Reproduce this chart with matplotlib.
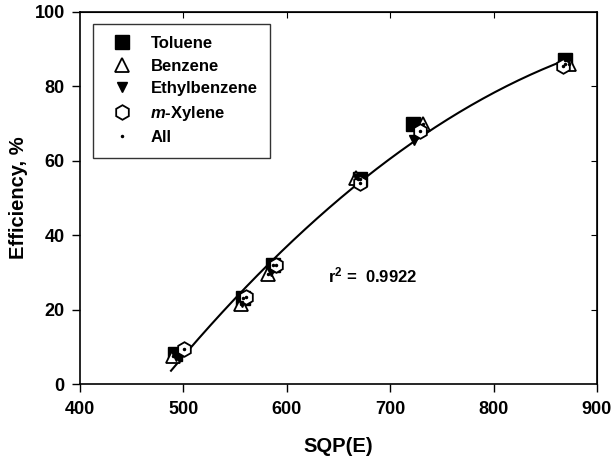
import numpy as np
import matplotlib
matplotlib.use('Agg')
import matplotlib.pyplot as plt

plt.rcParams['font.family'] = ['Liberation Sans', 'DejaVu Sans']
plt.rcParams['font.weight'] = 'bold'
plt.rcParams['mathtext.fontset'] = 'custom'
plt.rcParams['mathtext.rm'] = 'Liberation Sans:bold'
plt.rcParams['mathtext.it'] = 'Liberation Sans:italic:bold'
plt.rcParams['mathtext.bf'] = 'Liberation Sans:bold'

# SQP(E) vs efficiency data
tol_x = [492, 558, 587, 671, 722, 869]
tol_y = [8.0, 23.0, 32.0, 55.0, 70.0, 87.0]
ben_x = [490, 556, 582, 667, 732, 873]
ben_y = [7.5, 21.5, 29.5, 55.5, 70.0, 86.0]
eth_x = [493, 557, 585, 669, 723, 869]
eth_y = [7.5, 22.0, 30.5, 55.0, 65.5, 86.0]
xyl_x = [501, 561, 590, 671, 729, 867]
xyl_y = [9.5, 23.5, 32.0, 54.0, 68.0, 85.5]

all_x = np.array(tol_x + ben_x + eth_x + xyl_x, dtype=float)
all_y = np.array(tol_y + ben_y + eth_y + xyl_y, dtype=float)

fig = plt.figure(figsize=(6.11, 4.61), dpi=100)
ax = fig.add_axes([0.131, 0.167, 0.846, 0.807])

# quadratic fit through all points
coef = np.polyfit(all_x, all_y, 2)
xf = np.linspace(488, 868, 200)
ax.plot(xf, np.polyval(coef, xf), color='black', lw=1.5, zorder=1)

ax.plot(tol_x, tol_y, 's', color='black', ms=9.5, ls='none', label='Toluene')
ax.plot(ben_x, ben_y, '^', mfc='white', mec='black', mew=1.3, ms=10.5, ls='none', label='Benzene')
ax.plot(eth_x, eth_y, 'v', color='black', ms=7, ls='none', label='Ethylbenzene')
ax.plot(xyl_x, xyl_y, 'h', mfc='white', mec='black', mew=1.3, ms=10.5, ls='none', label='$\\it{m}$-Xylene')
ax.plot(all_x, all_y, '.', color='black', ms=3, ls='none', label='All')

ax.text(640, 29.3, 'r$^2$ =  0.9922', fontsize=12, fontweight='bold', va='center')

ax.set_xlim(400, 900)
ax.set_ylim(0, 100)
ax.set_xticks(range(400, 901, 100))
ax.set_yticks(range(0, 101, 20))
ax.tick_params(direction='out', length=6, width=1, labelsize=13)
ax.tick_params(axis='x', pad=6)
ax.tick_params(axis='y', pad=5)
for lab in ax.get_xticklabels() + ax.get_yticklabels():
    lab.set_fontweight('bold')
for s in ax.spines.values():
    s.set_linewidth(1.2)

top = ax.secondary_xaxis('top')
top.set_xticks(range(500, 900, 100))
top.tick_params(direction='in', length=4, labeltop=False)
right = ax.secondary_yaxis('right')
right.set_yticks(range(20, 100, 20))
right.tick_params(direction='in', length=4, labelright=False)

ax.set_xlabel('SQP(E)', fontsize=14.5, fontweight='bold', labelpad=14)
ax.set_ylabel('Efficiency, %', fontsize=14.5, fontweight='bold', labelpad=5)

leg = ax.legend(loc='upper left', bbox_to_anchor=(0.025, 0.969), borderaxespad=0,
                fancybox=False, edgecolor='black', handletextpad=0.7,
                borderpad=0.75, labelspacing=0.45, handlelength=2.0,
                prop={'weight': 'bold', 'size': 12})
leg.get_frame().set_linewidth(1.0)

fig.savefig('out.png', dpi=100)
